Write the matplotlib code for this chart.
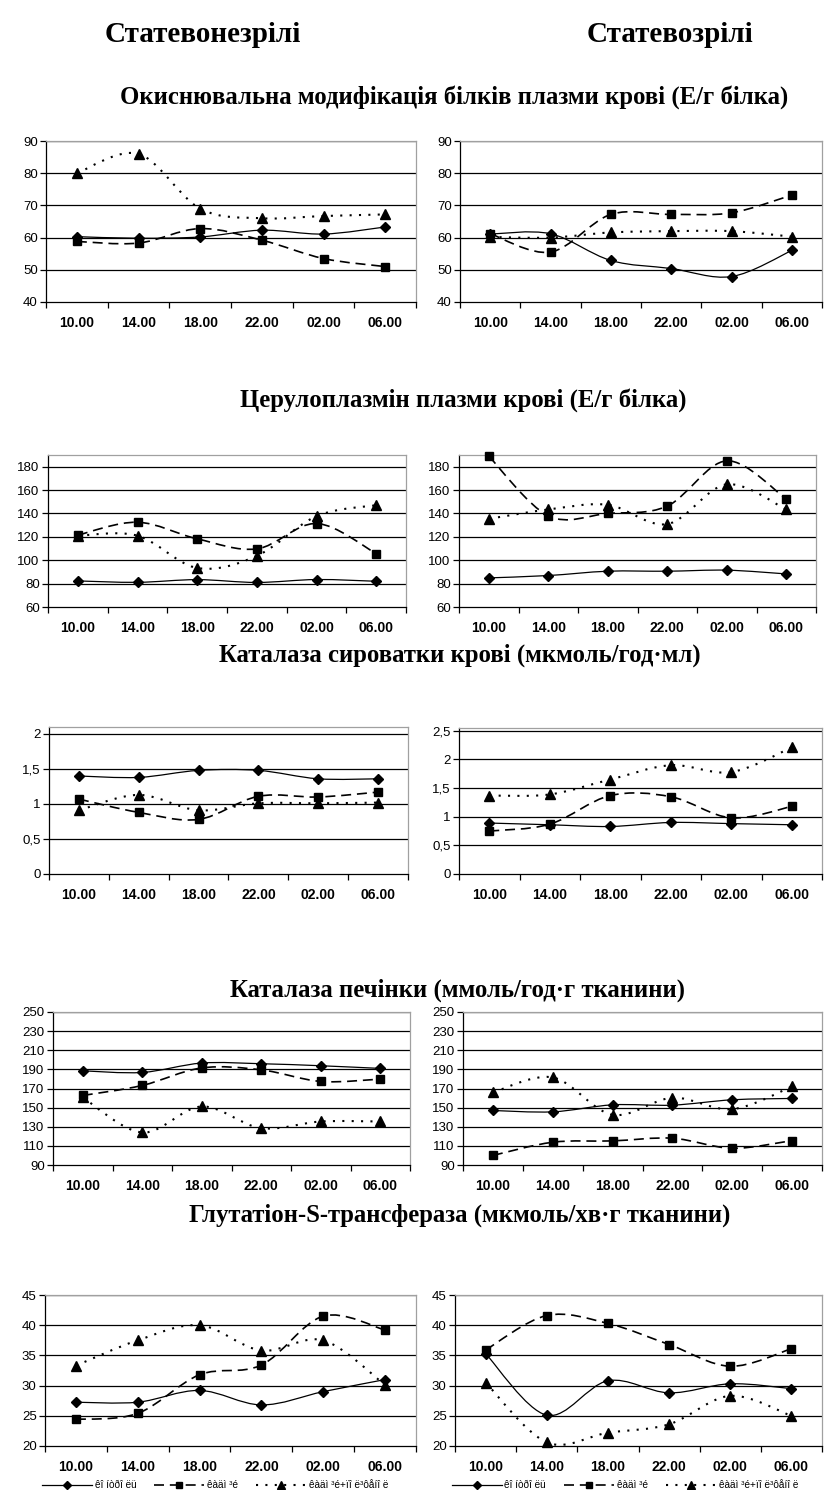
import numpy as np
import matplotlib
matplotlib.use("Agg")
import matplotlib.pyplot as plt
from matplotlib.path import Path
from matplotlib.patches import PathPatch
from matplotlib.lines import Line2D

plt.rcParams.update({'font.family': ['Liberation Sans', 'DejaVu Sans'], 'font.size': 9.5})

W, H = 827, 1490
times = ['10.00', '14.00', '18.00', '22.00', '02.00', '06.00']
legend_labels = ['êî íòðî ëü', 'êàäì ³é', 'êàäì ³é+ïî ë³ôåíî ë']
headers = ['Статевонезрілі', 'Статевозрілі']
titles = ['Окиснювальна модифікація білків плазми крові (Е/г білка)',
          'Церулоплазмін плазми крові (Е/г білка)',
          'Каталаза сироватки крові (мкмоль/год·мл)',
          'Каталаза печінки (ммоль/год·г тканини)',
          'Глутатіон-S-трансфераза (мкмоль/хв·г тканини)']

# Окиснювальна модифікація
omb_young_control = [60.3, 59.8, 60.2, 62.3, 61.1, 63.3]
omb_young_cd = [58.8, 58.3, 62.8, 59.2, 53.5, 51.0]
omb_young_cdpoly = [80.0, 86.0, 69.0, 66.0, 66.7, 67.2]
omb_adult_control = [61.1, 61.2, 52.9, 50.4, 47.9, 56.0]
omb_adult_cd = [61.2, 55.5, 67.2, 67.2, 67.7, 73.2]
omb_adult_cdpoly = [60.2, 60.0, 61.6, 62.0, 62.0, 60.3]

# Церулоплазмін
cp_young_control = [82.3, 81.1, 83.4, 81.0, 83.5, 82.0]
cp_young_cd = [121.5, 132.5, 118.3, 109.7, 131.4, 105.7]
cp_young_cdpoly = [121.0, 121.0, 93.4, 103.7, 137.7, 147.1]
cp_adult_control = [84.9, 86.9, 90.6, 90.6, 91.5, 88.3]
cp_adult_cd = [189.0, 138.0, 140.0, 146.3, 185.0, 152.3]
cp_adult_cdpoly = [135.4, 143.4, 147.4, 130.9, 164.9, 143.4]

# Каталаза сироватки
cs_young_control = [1.40, 1.38, 1.48, 1.48, 1.36, 1.36]
cs_young_cd = [1.07, 0.88, 0.78, 1.11, 1.10, 1.17]
cs_young_cdpoly = [0.91, 1.13, 0.91, 1.01, 1.01, 1.02]
cs_adult_control = [0.89, 0.86, 0.83, 0.90, 0.88, 0.86]
cs_adult_cd = [0.75, 0.87, 1.37, 1.35, 0.98, 1.18]
cs_adult_cdpoly = [1.37, 1.39, 1.65, 1.90, 1.78, 2.21]

# Каталаза печінки
cl_young_control = [188.5, 186.8, 196.6, 195.9, 193.8, 191.0]
cl_young_cd = [162.7, 173.2, 191.5, 189.5, 177.4, 179.8]
cl_young_cdpoly = [160.6, 124.0, 151.2, 128.5, 135.5, 135.5]
cl_adult_control = [147.0, 145.6, 152.9, 152.6, 158.2, 159.6]
cl_adult_cd = [100.0, 113.8, 115.2, 118.0, 107.5, 115.5]
cl_adult_cdpoly = [165.9, 181.6, 142.5, 160.3, 148.4, 172.1]

# Глутатіон-S-трансфераза
gst_young_control = [27.25, 27.25, 29.2, 26.8, 29.0, 31.0]
gst_young_cd = [24.4, 25.4, 31.8, 33.4, 41.5, 39.2]
gst_young_cdpoly = [33.3, 37.5, 40.0, 35.8, 37.5, 30.1]
gst_adult_control = [35.3, 25.1, 30.8, 28.8, 30.3, 29.5]
gst_adult_cd = [35.9, 41.6, 40.3, 36.8, 33.2, 36.1]
gst_adult_cdpoly = [30.5, 20.6, 22.2, 23.6, 28.3, 25.0]

styles = [dict(ls='-', lw=0.9, marker='D', ms=5.5),
          dict(ls=(0, (6, 3.5)), lw=1.2, marker='s', ms=6),
          dict(ls=(0, (1, 3.5)), lw=1.5, marker='^', ms=7)]


def smooth_path(x, y):
    pts = np.column_stack([x, y]).astype(float)
    n = len(pts)
    verts = [pts[0]]
    codes = [Path.MOVETO]
    for i in range(n - 1):
        p0 = pts[max(i - 1, 0)]
        p1 = pts[i]
        p2 = pts[i + 1]
        p3 = pts[min(i + 2, n - 1)]
        verts += [p1 + (p2 - p0) / 6, p2 - (p3 - p1) / 6, p2]
        codes += [Path.CURVE4] * 3
    return Path(verts, codes)


def panel(rect, series, ylim, yticks, yfmt):
    l, t, r, b = rect
    ax = fig.add_axes([l / W, 1 - b / H, (r - l) / W, (b - t) / H])
    x = np.arange(len(times))
    for vals, st in zip(series, styles):
        ax.add_patch(PathPatch(smooth_path(x, vals), fill=False, edgecolor='k',
                               lw=st['lw'], ls=st['ls'], zorder=3))
        ax.plot(x, vals, ls='none', marker=st['marker'], ms=st['ms'],
                color='k', zorder=4, clip_on=False)
    ax.set_xlim(-0.5, 5.5)
    ax.set_ylim(*ylim)
    ax.set_yticks(yticks)
    ax.set_yticklabels([yfmt(v) for v in yticks])
    for v in yticks:
        if v > ylim[0]:
            ax.axhline(v, color='k', lw=0.9, zorder=1)
    ax.set_xticks(x)
    ax.set_xticklabels(times, fontweight='bold', fontsize=10)
    ax.set_xticks(np.arange(-0.5, 6, 1), minor=True)
    ax.tick_params(axis='x', which='major', length=0, pad=10)
    ax.tick_params(axis='x', which='minor', length=4, width=0.9, direction='out')
    ax.tick_params(axis='y', length=4, width=0.9, direction='out', pad=2)
    for s in ['top', 'right']:
        ax.spines[s].set_color('#a0a0a0')
        ax.spines[s].set_linewidth(0.9)
    for s in ['left', 'bottom']:
        ax.spines[s].set_color('k')
        ax.spines[s].set_linewidth(0.9)
    return ax


fig = plt.figure(figsize=(W / 100, H / 100), dpi=100)

serif = ['Liberation Serif', 'DejaVu Serif']
fig.text(203 / W, 1 - 35 / H, headers[0], ha='center', va='center',
         family=serif, fontweight='bold', fontsize=21)
fig.text(670 / W, 1 - 35 / H, headers[1], ha='center', va='center',
         family=serif, fontweight='bold', fontsize=21)
title_pos = [(454, 97), (463, 400), (460, 655), (458, 990), (460, 1215)]
for (tx, ty), tt in zip(title_pos, titles):
    fig.text(tx / W, 1 - ty / H, tt, ha='center', va='center',
             family=serif, fontweight='bold', fontsize=17.8)

intf = lambda v: '%d' % v
commaf = lambda v: ('%g' % v).replace('.', ',')

panel((46, 141, 416, 302), [omb_young_control, omb_young_cd, omb_young_cdpoly],
      (40, 90), [40, 50, 60, 70, 80, 90], intf)
panel((460, 141, 822, 302), [omb_adult_control, omb_adult_cd, omb_adult_cdpoly],
      (40, 90), [40, 50, 60, 70, 80, 90], intf)

panel((48, 455, 406, 607), [cp_young_control, cp_young_cd, cp_young_cdpoly],
      (60, 190), [60, 80, 100, 120, 140, 160, 180], intf)
panel((459, 455, 816, 607), [cp_adult_control, cp_adult_cd, cp_adult_cdpoly],
      (60, 190), [60, 80, 100, 120, 140, 160, 180], intf)

panel((49, 727, 408, 874), [cs_young_control, cs_young_cd, cs_young_cdpoly],
      (0, 2.1), [0, 0.5, 1, 1.5, 2], commaf)
panel((459, 728, 822, 874), [cs_adult_control, cs_adult_cd, cs_adult_cdpoly],
      (0, 2.55), [0, 0.5, 1, 1.5, 2, 2.5], commaf)

panel((53, 1012, 410, 1165), [cl_young_control, cl_young_cd, cl_young_cdpoly],
      (90, 250), list(range(90, 251, 20)), intf)
panel((463, 1012, 822, 1165), [cl_adult_control, cl_adult_cd, cl_adult_cdpoly],
      (90, 250), list(range(90, 251, 20)), intf)

panel((45, 1295, 416, 1446), [gst_young_control, gst_young_cd, gst_young_cdpoly],
      (20, 45), [20, 25, 30, 35, 40, 45], intf)
panel((455, 1295, 822, 1446), [gst_adult_control, gst_adult_cd, gst_adult_cdpoly],
      (20, 45), [20, 25, 30, 35, 40, 45], intf)

for cx in [215, 625]:
    hs = [Line2D([0, 0.5, 1], [0, 0, 0], color='k', ls=st['ls'], lw=st['lw'],
                 marker=st['marker'], ms=st['ms'] - 1, markevery=[1]) for st in styles]
    fig.legend(hs, legend_labels, loc='center', bbox_to_anchor=(cx / W, 1 - 1485 / H),
               ncol=3, frameon=False, fontsize=7.2, handlelength=5.0,
               columnspacing=1.8, handletextpad=0.3, borderpad=0)

fig.savefig('out.png', dpi=100)
